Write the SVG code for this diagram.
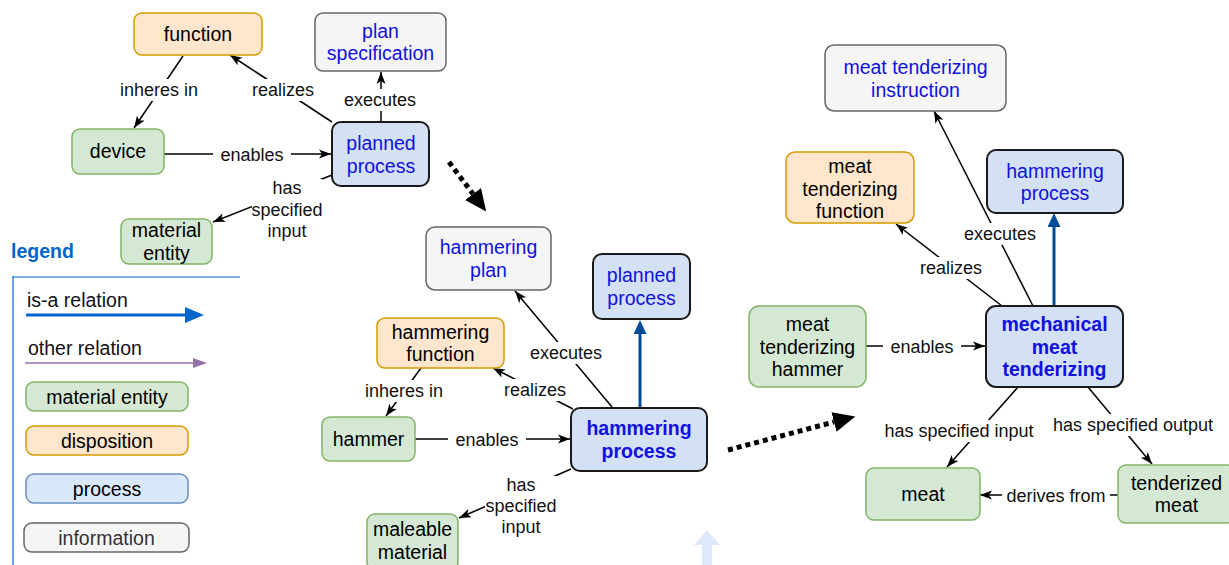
<svg xmlns="http://www.w3.org/2000/svg" width="1229" height="565" viewBox="0 0 1229 565">
<style>
text{font-family:"Liberation Sans",Arial,Helvetica,sans-serif;}
.nt{font-size:19.5px;text-anchor:middle;fill:#000;}
.bt{font-size:19.5px;text-anchor:middle;fill:#1010E0;}
.bb{font-size:19.5px;text-anchor:middle;fill:#1010E0;font-weight:bold;}
.lt{font-size:18px;text-anchor:middle;fill:#111;}
.mat{fill:#d5e8d4;stroke:#82b366;stroke-width:1.5;}
.dis{fill:#ffe6cc;stroke:#d79b00;stroke-width:1.5;}
.inf{fill:#f5f5f5;stroke:#666666;stroke-width:1.5;}
.pro{fill:#d4e1f5;stroke:#1a1a1a;stroke-width:2;}
.lpro{fill:#dae8fc;stroke:#6c8ebf;stroke-width:1.5;}
.e{stroke:#000;stroke-width:1.5;fill:none;marker-end:url(#arr);}
.isa{stroke:#004C99;stroke-width:3;fill:none;marker-end:url(#isa);}
.dot{stroke:#000;stroke-width:5;stroke-dasharray:5 4;fill:none;marker-end:url(#big);}
.bg{fill:#fff;}
</style>
<defs>
<marker id="arr" viewBox="0 0 12 10" refX="12" refY="5" markerWidth="12" markerHeight="10" markerUnits="userSpaceOnUse" orient="auto"><path d="M0,0.5 L12,5 L0,9.5 L3,5 z" fill="#000"/></marker>
<marker id="isa" viewBox="0 0 14 13" refX="0" refY="6.5" markerWidth="14" markerHeight="13" markerUnits="userSpaceOnUse" orient="auto"><path d="M0,0 L14,6.5 L0,13 z" fill="#004C99"/></marker>
<marker id="big" viewBox="0 0 22 20" refX="0" refY="10" markerWidth="22" markerHeight="20" markerUnits="userSpaceOnUse" orient="auto"><path d="M0,0 L22,10 L0,20 z" fill="#000"/></marker>
<marker id="lisa" viewBox="0 0 19 16" refX="0" refY="8" markerWidth="19" markerHeight="16" markerUnits="userSpaceOnUse" orient="auto"><path d="M0,0 L19,8 L0,16 z" fill="#0066CC"/></marker>
<marker id="loth" viewBox="0 0 14 10" refX="0" refY="5" markerWidth="14" markerHeight="10" markerUnits="userSpaceOnUse" orient="auto"><path d="M0,0 L14,5 L0,10 z" fill="#9673A6"/></marker>
</defs>
<rect width="1229" height="565" fill="#fff"/>

<g id="connectors">
<line class="e" x1="183" y1="56" x2="134" y2="128"/>
<line class="e" x1="332" y1="122" x2="230" y2="55"/>
<line class="e" x1="381" y1="122" x2="381" y2="72"/>
<line class="e" x1="164" y1="154" x2="331" y2="154"/>
<line class="e" x1="332" y1="175" x2="213" y2="222"/>
<line class="e" x1="612" y1="407" x2="515" y2="291"/>
<line class="e" x1="573" y1="409" x2="493" y2="368"/>
<line class="e" x1="421" y1="368" x2="386" y2="416"/>
<line class="e" x1="415" y1="439" x2="570" y2="439"/>
<line class="e" x1="571" y1="469" x2="459" y2="518"/>
<line class="isa" x1="640" y1="407" x2="640" y2="334"/>
<line class="e" x1="1033" y1="306" x2="934" y2="111"/>
<line class="e" x1="1002" y1="306" x2="896" y2="224"/>
<line class="isa" x1="1054" y1="306" x2="1054" y2="227"/>
<line class="e" x1="866" y1="346" x2="985" y2="346"/>
<line class="e" x1="1018" y1="387" x2="947" y2="467"/>
<line class="e" x1="1088" y1="387" x2="1152" y2="464"/>
<line class="e" x1="1118" y1="495" x2="980" y2="495"/>
<line class="dot" x1="449" y1="162" x2="473" y2="194"/>
<line class="dot" x1="728" y1="450" x2="834" y2="422"/>

<rect class="bg" x="117" y="79" width="84" height="22"/><text class="lt" x="159" y="96">inheres in</text>
<rect class="bg" x="249" y="79" width="68" height="22"/><text class="lt" x="283" y="96">realizes</text>
<rect class="bg" x="341" y="89" width="78" height="22"/><text class="lt" x="380" y="106">executes</text>
<rect class="bg" x="213" y="144" width="78" height="22"/><text class="lt" x="252" y="161">enables</text>
<rect class="bg" x="252" y="179" width="70" height="63"/>
<text class="lt" x="287" y="194">has</text><text class="lt" x="287" y="216">specified</text><text class="lt" x="287" y="237">input</text>
<rect class="bg" x="527" y="342" width="78" height="22"/><text class="lt" x="566" y="359">executes</text>
<rect class="bg" x="501" y="379" width="68" height="22"/><text class="lt" x="535" y="396">realizes</text>
<rect class="bg" x="362" y="380" width="84" height="22"/><text class="lt" x="404" y="397">inheres in</text>
<rect class="bg" x="448" y="429" width="78" height="22"/><text class="lt" x="487" y="446">enables</text>
<rect class="bg" x="485" y="476" width="72" height="63"/>
<text class="lt" x="521" y="491">has</text><text class="lt" x="521" y="512">specified</text><text class="lt" x="521" y="533">input</text>
<rect class="bg" x="961" y="223" width="78" height="22"/><text class="lt" x="1000" y="240">executes</text>
<rect class="bg" x="917" y="257" width="68" height="22"/><text class="lt" x="951" y="274">realizes</text>
<rect class="bg" x="883" y="336" width="78" height="22"/><text class="lt" x="922" y="353">enables</text>
<rect class="bg" x="883" y="420" width="152" height="22"/><text class="lt" x="959" y="437">has specified input</text>
<rect class="bg" x="1051" y="414" width="164" height="22"/><text class="lt" x="1133" y="431">has specified output</text>
<rect class="bg" x="1002" y="485" width="108" height="22"/><text class="lt" x="1056" y="502">derives from</text>
</g>

<g id="n-function"><rect class="dis" x="134" y="13" width="128" height="42" rx="8"/><text class="nt" x="198" y="41">function</text></g>
<g id="n-plan-spec"><rect class="inf" x="315" y="13" width="131" height="58" rx="8"/><text class="bt" x="380.5" y="37.5">plan</text><text class="bt" x="380.5" y="60">specification</text></g>
<g id="n-device"><rect class="mat" x="72" y="129" width="92" height="45" rx="8"/><text class="nt" x="118" y="158">device</text></g>
<g id="n-planned-process-1"><rect class="pro" x="332" y="122" width="97" height="64" rx="9"/><text class="bt" x="381" y="150">planned</text><text class="bt" x="381" y="172.5">process</text></g>
<g id="n-material-entity"><rect class="mat" x="121" y="219" width="91" height="45" rx="8"/><text class="nt" x="166.5" y="237">material</text><text class="nt" x="166.5" y="259.5">entity</text></g>

<g id="legend">
<text x="11" y="258" style="font-size:19.5px;font-weight:bold;fill:#0066CC;">legend</text>
<line x1="13" y1="276" x2="13" y2="565" stroke="#0066CC" stroke-width="1.2"/>
<line x1="13" y1="277" x2="240" y2="277" stroke="#0066CC" stroke-width="1.2"/>
<text x="27" y="307" style="font-size:19.5px;fill:#111;">is-a relation</text>
<line x1="26" y1="315" x2="185" y2="315" stroke="#0066CC" stroke-width="3" marker-end="url(#lisa)"/>
<text x="28" y="355" style="font-size:19.5px;fill:#111;">other relation</text>
<line x1="25" y1="363" x2="193" y2="363" stroke="#9673A6" stroke-width="1.5" marker-end="url(#loth)"/>
<rect class="mat" x="26" y="382" width="162" height="29" rx="8"/><text class="nt" x="107" y="403.5">material entity</text>
<rect class="dis" x="26" y="426" width="162" height="29" rx="8"/><text class="nt" x="107" y="447.5">disposition</text>
<rect class="lpro" x="26" y="474" width="162" height="29" rx="8"/><text class="nt" x="107" y="495.5">process</text>
<rect class="inf" x="24" y="523" width="165" height="29" rx="8"/><text class="nt" x="106.5" y="544.5" style="fill:#333;">information</text>
</g>

<g id="n-hammering-plan"><rect class="inf" x="426" y="227" width="125" height="63" rx="9"/><text class="bt" x="488.5" y="254">hammering</text><text class="bt" x="488.5" y="276.5">plan</text></g>
<g id="n-planned-process-2"><rect class="pro" x="593" y="254" width="97" height="65" rx="9"/><text class="bt" x="641.5" y="282">planned</text><text class="bt" x="641.5" y="304.5">process</text></g>
<g id="n-hammering-function"><rect class="dis" x="377" y="318" width="127" height="50" rx="8"/><text class="nt" x="440.5" y="338.5">hammering</text><text class="nt" x="440.5" y="361">function</text></g>
<g id="n-hammer"><rect class="mat" x="322" y="417" width="93" height="44" rx="8"/><text class="nt" x="368.5" y="446">hammer</text></g>
<g id="n-hammering-process"><rect class="pro" x="571" y="408" width="136" height="63" rx="9"/><text class="bb" x="639" y="435">hammering</text><text class="bb" x="639" y="457.5">process</text></g>
<g id="n-maleable-material"><rect class="mat" x="367" y="514" width="91" height="56" rx="8"/><text class="nt" x="412.5" y="536">maleable</text><text class="nt" x="412.5" y="558.5">material</text></g>
<g id="faded-arrow"><polygon points="707,530 720,545 712,545 712,566 702,566 702,545 694,545" fill="#dde9fb"/></g>

<g id="n-mt-instruction"><rect class="inf" x="825" y="45" width="181" height="66" rx="9"/><text class="bt" x="915.5" y="74">meat tenderizing</text><text class="bt" x="915.5" y="96.5">instruction</text></g>
<g id="n-mt-function"><rect class="dis" x="786" y="152" width="128" height="71" rx="9"/><text class="nt" x="850" y="173">meat</text><text class="nt" x="850" y="195.5">tenderizing</text><text class="nt" x="850" y="218">function</text></g>
<g id="n-hammering-process-2"><rect class="pro" x="987" y="150" width="136" height="63" rx="9"/><text class="bt" x="1055" y="177.5">hammering</text><text class="bt" x="1055" y="200">process</text></g>
<g id="n-mt-hammer"><rect class="mat" x="749" y="306" width="117" height="81" rx="10"/><text class="nt" x="807.5" y="331">meat</text><text class="nt" x="807.5" y="353.5">tenderizing</text><text class="nt" x="807.5" y="376">hammer</text></g>
<g id="n-mech-mt"><rect class="pro" x="986" y="306" width="137" height="81" rx="10"/><text class="bb" x="1054.5" y="331">mechanical</text><text class="bb" x="1054.5" y="353.5">meat</text><text class="bb" x="1054.5" y="376">tenderizing</text></g>
<g id="n-meat"><rect class="mat" x="866" y="468" width="114" height="52" rx="8"/><text class="nt" x="923" y="501">meat</text></g>
<g id="n-tenderized-meat"><rect class="mat" x="1118" y="465" width="117" height="58" rx="8"/><text class="nt" x="1176.5" y="489.5">tenderized</text><text class="nt" x="1176.5" y="512">meat</text></g>
</svg>
